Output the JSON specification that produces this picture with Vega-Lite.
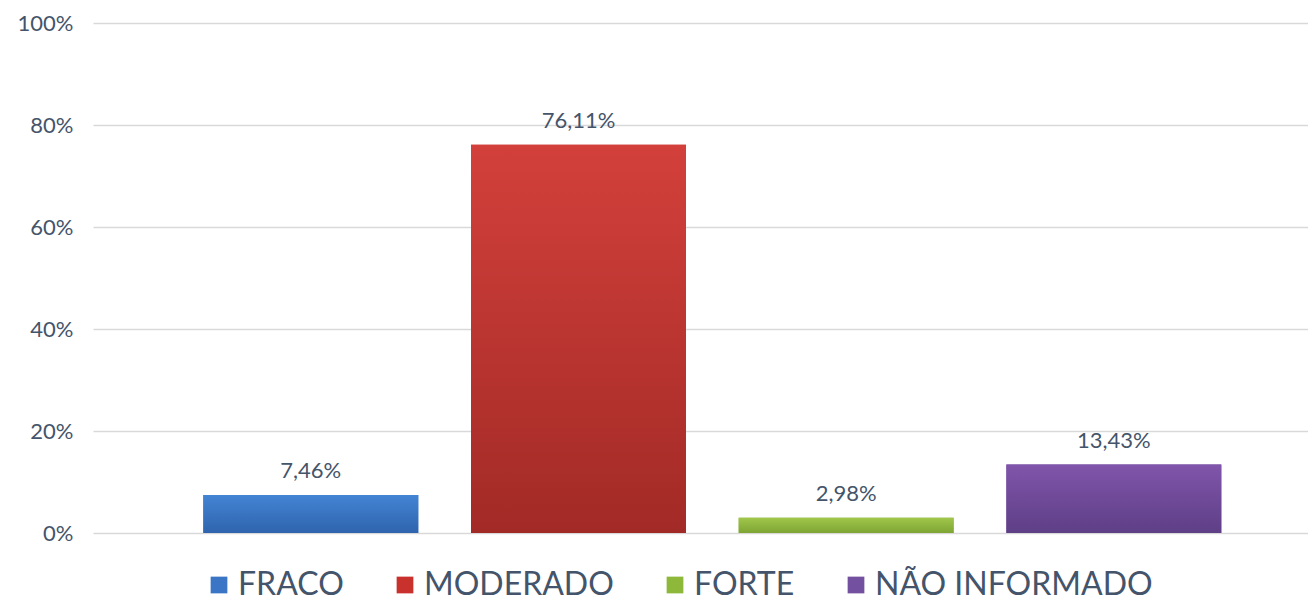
{
  "$schema": "https://vega.github.io/schema/vega-lite/v6.json",
  "width": 1215,
  "height": 510,
  "autosize": "none",
  "padding": {"left": 93, "top": 23, "right": 0, "bottom": 72},
  "background": "white",
  "config": {
    "locale": {"number": {"decimal": ",", "thousands": ".", "grouping": [3], "currency": ["R$", ""]}},
    "view": {"stroke": null},
    "font": "Lato"
  },
  "data": {
    "values": [
      {"categoria": "FRACO", "valor": 0.0746},
      {"categoria": "MODERADO", "valor": 0.7611},
      {"categoria": "FORTE", "valor": 0.0298},
      {"categoria": "NÃO INFORMADO", "valor": 0.1343}
    ]
  },
  "encoding": {
    "x": {
      "field": "categoria", "type": "nominal", "sort": null,
      "scale": {"paddingInner": 0.197, "paddingOuter": 0.368, "align": 0.56},
      "axis": null
    },
    "y": {
      "field": "valor", "type": "quantitative",
      "scale": {"domain": [0, 1], "nice": false},
      "axis": {
        "format": ".0%", "values": [0, 0.2, 0.4, 0.6, 0.8, 1],
        "title": null, "domain": false, "ticks": false,
        "labelPadding": 20, "labelFontSize": 22, "labelColor": "#44546a",
        "labelFont": "Lato", "gridColor": "#d9d9d9", "gridWidth": 1.5
      }
    }
  },
  "layer": [
    {
      "mark": {"type": "bar"},
      "encoding": {
        "color": {
          "field": "categoria", "type": "nominal", "sort": null,
          "scale": {
            "domain": ["FRACO", "MODERADO", "FORTE", "NÃO INFORMADO"],
            "range": ["#3b76c6", "#c9312c", "#8db83a", "#7450a0"]
          },
          "legend": {
            "orient": "none", "direction": "horizontal",
            "legendX": 110, "legendY": 546,
            "title": null, "symbolType": "square", "symbolSize": 280,
            "labelFontSize": 32, "labelColor": "#44546a", "labelFont": "Lato",
            "labelLimit": 0,
            "columnPadding": 45, "labelOffset": 3, "symbolStrokeWidth": 0
          }
        }
      }
    },
    {
      "mark": {"type": "bar"},
      "encoding": {
        "fill": {
          "condition": [
            {"test": "datum.categoria === 'FRACO'", "value": {"gradient": "linear", "x1": 0, "y1": 0, "x2": 0, "y2": 1, "stops": [{"offset": 0, "color": "#4384d4"}, {"offset": 1, "color": "#2f64ad"}]}},
            {"test": "datum.categoria === 'MODERADO'", "value": {"gradient": "linear", "x1": 0, "y1": 0, "x2": 0, "y2": 1, "stops": [{"offset": 0, "color": "#d3403b"}, {"offset": 1, "color": "#a22a26"}]}},
            {"test": "datum.categoria === 'FORTE'", "value": {"gradient": "linear", "x1": 0, "y1": 0, "x2": 0, "y2": 1, "stops": [{"offset": 0, "color": "#a0c64a"}, {"offset": 1, "color": "#7ea534"}]}}
          ],
          "value": {"gradient": "linear", "x1": 0, "y1": 0, "x2": 0, "y2": 1, "stops": [{"offset": 0, "color": "#8055ab"}, {"offset": 1, "color": "#5e3f86"}]}
        }
      }
    },
    {
      "mark": {"type": "text", "baseline": "bottom", "dy": -12, "fontSize": 22, "color": "#44546a", "font": "Lato"},
      "encoding": {
        "text": {"field": "valor", "type": "quantitative", "format": ".2%"}
      }
    }
  ]
}
